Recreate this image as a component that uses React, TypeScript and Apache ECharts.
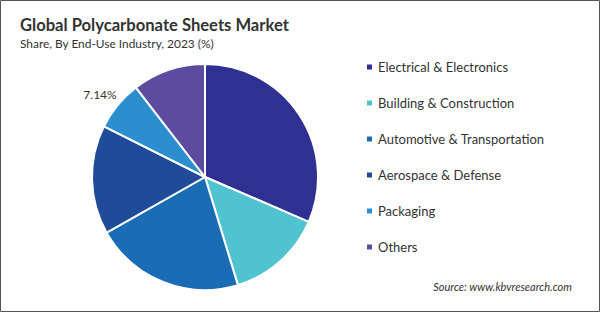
import React, { useEffect, useRef } from "react";
import * as echarts from "echarts";

const categories = [
  "Electrical & Electronics",
  "Building & Construction",
  "Automotive & Transportation",
  "Aerospace & Defense",
  "Packaging",
  "Others",
];
const shares = [31.5, 13.8, 21.5, 15.6, 7.14, 10.46];
const colors = ["#2E3192", "#4FC3CF", "#1A6DB4", "#1F4B99", "#2A8ECF", "#5B4CA0"];
const labelledIndex = 4;

const FONT = "Lato, 'Open Sans', sans-serif";

export default function App() {
  const ref = useRef<HTMLDivElement>(null);
  useEffect(() => {
    if (!ref.current) return;
    const chart = echarts.init(ref.current, undefined, { renderer: "svg" });
    const data = categories.map((name, i) => ({
      name,
      value: shares[i],
      itemStyle: { color: colors[i] },
      label: i === labelledIndex
        ? { show: true, position: "outside", formatter: (p: any) => p.value.toFixed(2) + "%" }
        : { show: false },
      labelLine: { show: false },
    }));
    chart.setOption({
      animation: false,
      backgroundColor: "#fff",
      textStyle: { fontFamily: FONT },
      title: {
        text: "Global Polycarbonate Sheets Market",
        subtext: "Share, By End-Use Industry, 2023 (%)",
        left: 15,
        top: 11,
        itemGap: 4,
        textStyle: { fontFamily: FONT, fontSize: 16.6, fontWeight: "bold", color: "#333" },
        subtextStyle: { fontFamily: FONT, fontSize: 11.9, color: "#333" },
      },
      legend: {
        orient: "vertical",
        left: 365,
        top: 59,
        padding: 0,
        icon: "rect",
        itemWidth: 7,
        itemHeight: 7,
        itemGap: 20,
        textStyle: { fontFamily: FONT, fontSize: 13, color: "#333", lineHeight: 16 },
        data: categories,
      },
      graphic: [
        {
          type: "rect",
          shape: { x: 0.5, y: 0.5, width: 599, height: 311 },
          style: { fill: "none", stroke: "#555", lineWidth: 1 },
          silent: true,
        },
        {
          type: "text",
          right: 28,
          top: 281,
          style: {
            text: "Source: www.kbvresearch.com",
            fontFamily: FONT,
            fontSize: 11,
            fontStyle: "italic",
            fill: "#333",
          },
        },
      ],
      series: [
        {
          type: "pie",
          center: [205, 177],
          radius: 113,
          startAngle: 90,
          clockwise: true,
          avoidLabelOverlap: false,
          itemStyle: { borderColor: "#fff", borderWidth: 2 },
          label: {
            fontFamily: FONT,
            fontSize: 12,
            color: "#333",
            distanceToLabelLine: -12,
          },
          labelLine: { length: 17, length2: 0 },
          emphasis: { disabled: true },
          data,
        },
      ],
    });
    return () => chart.dispose();
  }, []);
  return (
    <div
      ref={ref}
      style={{ position: "fixed", left: 0, top: 0, width: 600, height: 312 }}
    />
  );
}
